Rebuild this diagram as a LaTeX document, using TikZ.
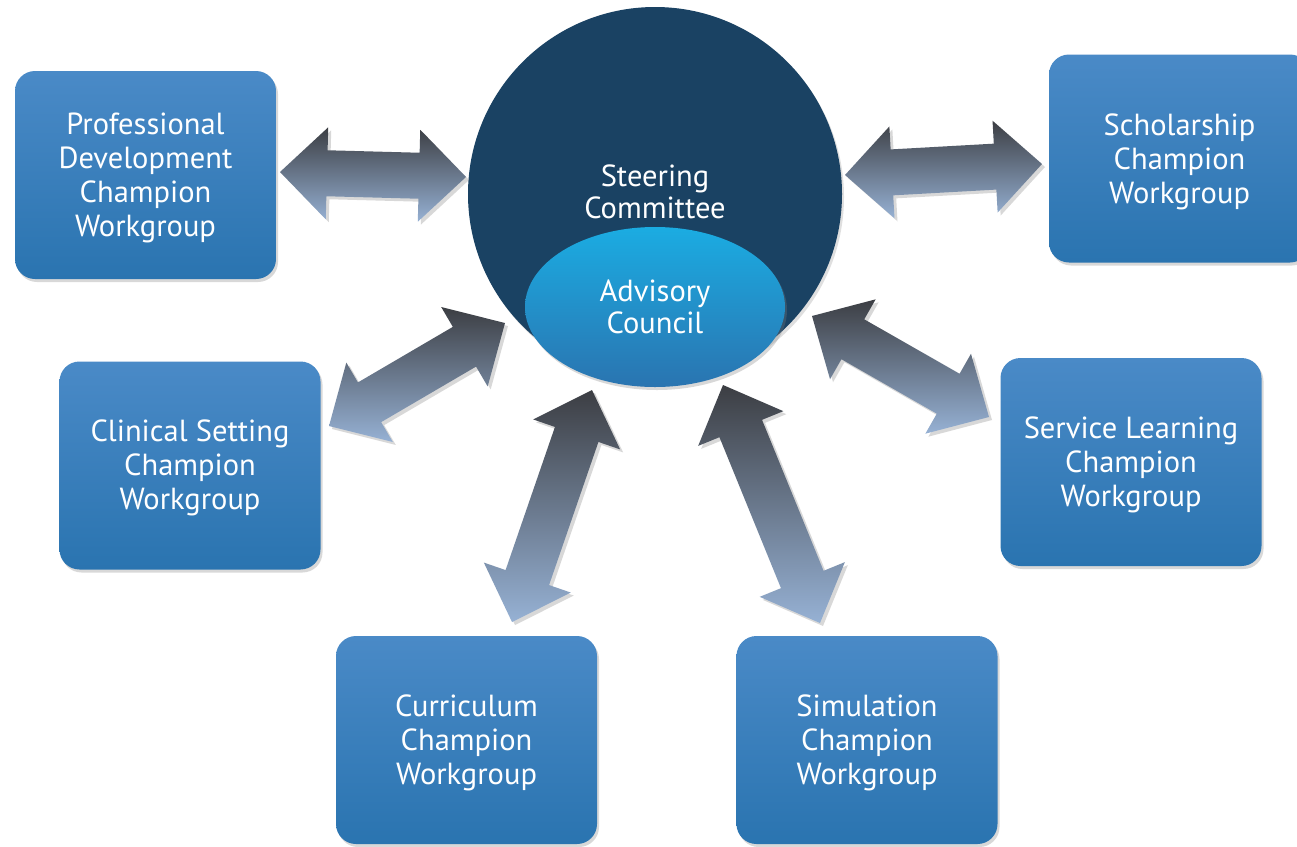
\documentclass[tikz,border=0pt]{standalone}
\usepackage{fontspec}
\setmainfont{PT Sans}
\usetikzlibrary{calc,shadows,shapes.geometric}
\definecolor{boxtop}{RGB}{74,138,199}
\definecolor{boxbot}{RGB}{42,116,176}
\definecolor{navy}{RGB}{26,66,99}
\definecolor{cyantop}{RGB}{27,172,226}
\definecolor{arrtop}{RGB}{60,62,67}
\definecolor{arrbot}{RGB}{150,177,212}
\tikzset{
  lbl/.style={text=white, align=center, font=\fontsize{30.5}{34}\selectfont, inner sep=0pt},
  wg/.style={lbl, rectangle, rounded corners=20pt, minimum width=261pt, minimum height=208pt,
    top color=boxtop, bottom color=boxbot,
    drop shadow={shadow xshift=2pt, shadow yshift=-3pt, opacity=0.3}},
  blockarrow/.style={top color=arrtop, bottom color=arrbot,
    drop shadow={shadow xshift=3pt, shadow yshift=-3pt, opacity=0.3}}
}
\newcommand\dblarrow[2]{%
  \path[blockarrow] (#1)
    -- ($(#1)!47pt!(#2)!46pt!90:(#2)$)
    -- ($(#1)!47pt!(#2)!23pt!90:(#2)$)
    -- ($(#2)!47pt!(#1)!23pt!-90:(#1)$)
    -- ($(#2)!47pt!(#1)!46pt!-90:(#1)$)
    -- (#2)
    -- ($(#2)!47pt!(#1)!46pt!90:(#1)$)
    -- ($(#2)!47pt!(#1)!23pt!90:(#1)$)
    -- ($(#1)!47pt!(#2)!23pt!-90:(#2)$)
    -- ($(#1)!47pt!(#2)!46pt!-90:(#2)$)
    -- cycle;}
\begin{document}
\begin{tikzpicture}[x=1pt,y=-1pt]
\clip (0,0) rectangle (1297,846);
\fill[white] (0,0) rectangle (1297,846);

% central
\node[lbl, circle, fill=navy, minimum size=374pt,
  drop shadow={shadow xshift=2pt, shadow yshift=-3pt, opacity=0.25}] (steer) at (655,194) {};
\node[lbl, font=\fontsize{30.5}{32}\selectfont] (steertxt) at (655,192) {Steering\\Committee};
\node[lbl, ellipse, minimum width=260pt, minimum height=160pt,
  top color=cyantop, bottom color=boxbot,
  drop shadow={shadow xshift=2pt, shadow yshift=-3pt, opacity=0.3}] (adv) at (655,307) {};
\node[lbl, font=\fontsize{30.5}{32}\selectfont] (advtxt) at (655,307) {Advisory\\Council};

% workgroups
\node[wg] (pd)   at (145.5,175) {};
\node[lbl] (pdtxt) at (145.5,178) {Professional\\Development\\Champion\\Workgroup};
\node[wg] (sch)  at (1179.5,158.5) {};
\node[lbl] (schtxt) at (1179.5,161.5) {Scholarship\\Champion\\Workgroup};
\node[wg] (clin) at (190,465.5) {};
\node[lbl] (clintxt) at (190,468) {Clinical Setting\\Champion\\Workgroup};
\node[wg] (serv) at (1131,462) {};
\node[lbl] (servtxt) at (1131,465) {Service Learning\\Champion\\Workgroup};
\node[wg] (curr) at (466.5,740) {};
\node[lbl] (currtxt) at (466.5,743) {Curriculum\\Champion\\Workgroup};
\node[wg] (sim)  at (867,740) {};
\node[lbl] (simtxt) at (867,743) {Simulation\\Champion\\Workgroup};

% arrow tips
\coordinate (a1s) at (280,172);  \coordinate (a1e) at (466,177);
\coordinate (a2s) at (845,175);  \coordinate (a2e) at (1042,164);
\coordinate (a3s) at (329,426);  \coordinate (a3e) at (505,323);
\coordinate (a4s) at (512,622);  \coordinate (a4e) at (592,390);
\coordinate (a5s) at (723,385);  \coordinate (a5e) at (820,623);
\coordinate (a6s) at (812,316);  \coordinate (a6e) at (989,417);

\dblarrow{a1s}{a1e}
\dblarrow{a2s}{a2e}
\dblarrow{a3s}{a3e}
\dblarrow{a4s}{a4e}
\dblarrow{a5s}{a5e}
\dblarrow{a6s}{a6e}
\end{tikzpicture}
\end{document}
